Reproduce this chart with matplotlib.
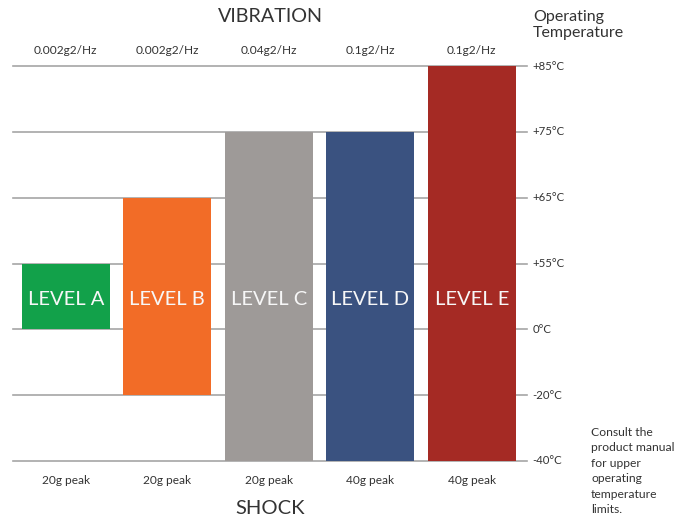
"""Operating temperature / vibration / shock levels chart."""

import matplotlib.pyplot as plt

plt.rcParams["font.family"] = ["Lato", "DejaVu Sans"]

levels = ["LEVEL A", "LEVEL B", "LEVEL C", "LEVEL D", "LEVEL E"]
vibration = ["0.002g2/Hz", "0.002g2/Hz", "0.04g2/Hz", "0.1g2/Hz", "0.1g2/Hz"]
shock = ["20g peak", "20g peak", "20g peak", "40g peak", "40g peak"]
temp_labels = ["-40°C", "-20°C", "0°C", "+55°C", "+65°C", "+75°C", "+85°C"]
# bar range as index into temp_labels
low_idx = [2, 1, 0, 0, 0]
high_idx = [3, 4, 5, 5, 6]
bar_colors = ["#12a14a", "#f26c27", "#9e9a98", "#3a5280", "#a52a24"]

text_color = "#333333"
grid_color = "#a6a6a6"

fig = plt.figure(figsize=(6.84, 5.18), dpi=100)
ax = fig.add_axes([13 / 684, 1 - 461 / 518, (518 - 13) / 684, (461 - 66) / 518])

x = list(range(len(levels)))
for i, lab in enumerate(temp_labels):
    ax.plot([-0.52, 4.54], [i, i], color=grid_color, lw=1.2, zorder=0, clip_on=False)
    ax.text(4.6, i, lab, ha="left", va="center", fontsize=8.2, color=text_color)

heights = [h - l for h, l in zip(high_idx, low_idx)]
ax.bar(x, heights, bottom=low_idx, width=0.87, color=bar_colors, zorder=2)

for i, name in enumerate(levels):
    ax.text(i, 2.45, name, ha="center", va="center", fontsize=14.5, color="#f7f7f7", zorder=3)
    ax.text(i, 6.23, vibration[i], ha="center", va="center", fontsize=8.6, color=text_color)
    ax.text(i, -0.30, shock[i], ha="center", va="center", fontsize=8.6, color=text_color)

ax.set_xlim(-0.52, 4.455)
ax.set_ylim(0, 6)
ax.axis("off")

fig.text(270 / 684, 1 - 17 / 518, "VIBRATION", ha="center", va="center", fontsize=14.2, color=text_color)
fig.text(270 / 684, 1 - 508 / 518, "SHOCK", ha="center", va="center", fontsize=14.5, color=text_color)
fig.text(533 / 684, 1 - 25 / 518, "Operating\nTemperature", ha="left", va="center",
         fontsize=11.5, color=text_color, linespacing=1.15)
fig.text(591 / 684, 1 - 471 / 518,
         "Consult the\nproduct manual\nfor upper\noperating\ntemperature\nlimits.",
         ha="left", va="center", fontsize=8.7, color=text_color, linespacing=1.5)

fig.savefig("out.png", dpi=100)
plt.close(fig)
